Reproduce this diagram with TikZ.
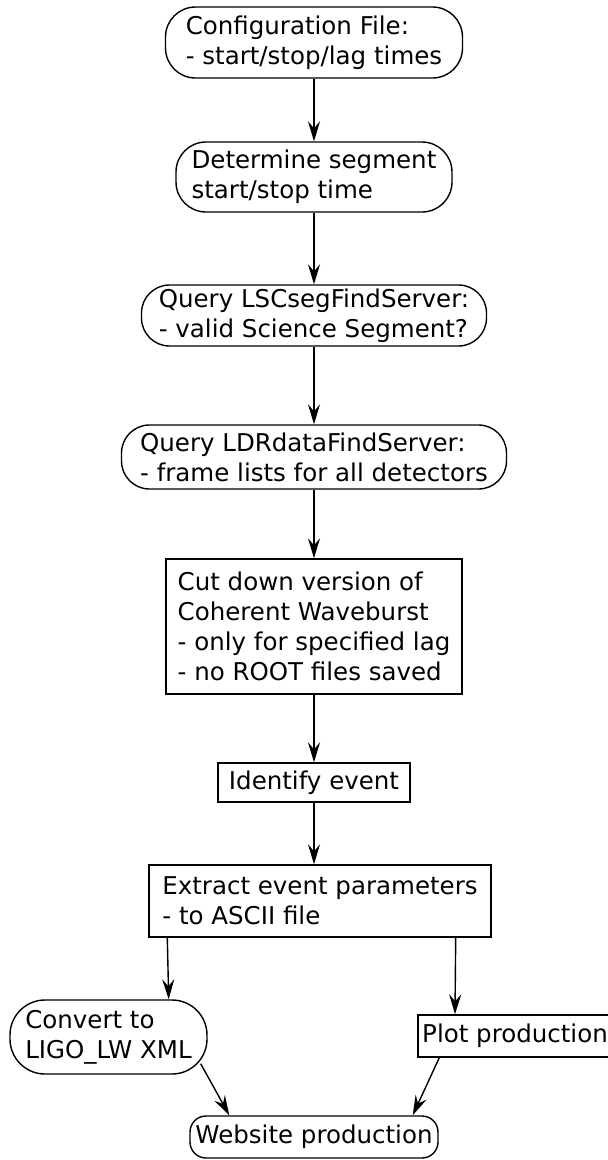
\documentclass[tikz,border=0pt]{standalone}
\usepackage{fontspec}
\setmainfont{DejaVu Sans}
\usetikzlibrary{arrows.meta}
\begin{document}
\begin{tikzpicture}[x=1pt,y=-1pt,
  every node/.style={font=\fontsize{24.5}{30}\selectfont, align=left, inner sep=0pt, line width=1.4pt},
  rbox/.style={draw, rounded corners=#1},
  sbox/.style={draw},
  arr/.style={line width=1.4pt, -{Stealth[length=20pt,width=12pt,inset=7pt]}}]
\useasboundingbox (0,0) rectangle (608,1160);
\node[rbox=30pt, minimum width=297pt, minimum height=71pt] (cfg) at (314,42.5) {Configuration File:\\- start/stop/lag times};
\node[rbox=30pt, minimum width=276pt, minimum height=70pt] (det) at (314,177) {Determine segment\\start/stop time};
\node[rbox=28pt, minimum width=345pt, minimum height=61pt] (lsc) at (314,315.5) {Query LSCsegFindServer:\\- valid Science Segment?};
\node[rbox=28pt, minimum width=385pt, minimum height=64pt] (ldr) at (314,457) {Query LDRdataFindServer:\\- frame lists for all detectors};
\node[sbox, minimum width=296pt, minimum height=135pt] (cut) at (314,626.5) {Cut down version of\\Coherent Waveburst\\- only for specified lag\\- no ROOT files saved};
\node[sbox, minimum width=192pt, minimum height=39pt] (idf) at (314,782.5) {Identify event};
\node[sbox, minimum width=342pt, minimum height=72pt] (ext) at (320,901) {Extract event parameters\\- to ASCII file};
\node[rbox=35pt, minimum width=197pt, minimum height=74pt] (cv) at (108.5,1037) {Convert to\\LIGO\_LW XML};
\node[sbox, minimum width=194pt, minimum height=42pt] (plot) at (515,1036) {Plot production};
\node[rbox=16pt, minimum width=248pt, minimum height=42pt] (web) at (314,1137) {Website production};
\draw[arr] (cfg.south) -- (det.north);
\draw[arr] (det.south) -- (lsc.north);
\draw[arr] (lsc.south) -- (ldr.north);
\draw[arr] (ldr.south) -- (cut.north);
\draw[arr] (cut.south) -- (idf.north);
\draw[arr] (idf.south) -- (idf.south |- ext.north);
\draw[arr] ([xshift=19pt]ext.south west) -- ([xshift=-39pt]cv.north east);
\draw[arr] ([xshift=-36pt]ext.south east) -- ([xshift=-60pt]plot.north);
\draw[arr] ([xshift=-7pt,yshift=11pt]cv.south east) -- ([xshift=40pt]web.north west);
\draw[arr] ([xshift=22pt]plot.south west) -- ([xshift=-26pt]web.north east);
\end{tikzpicture}
\end{document}
